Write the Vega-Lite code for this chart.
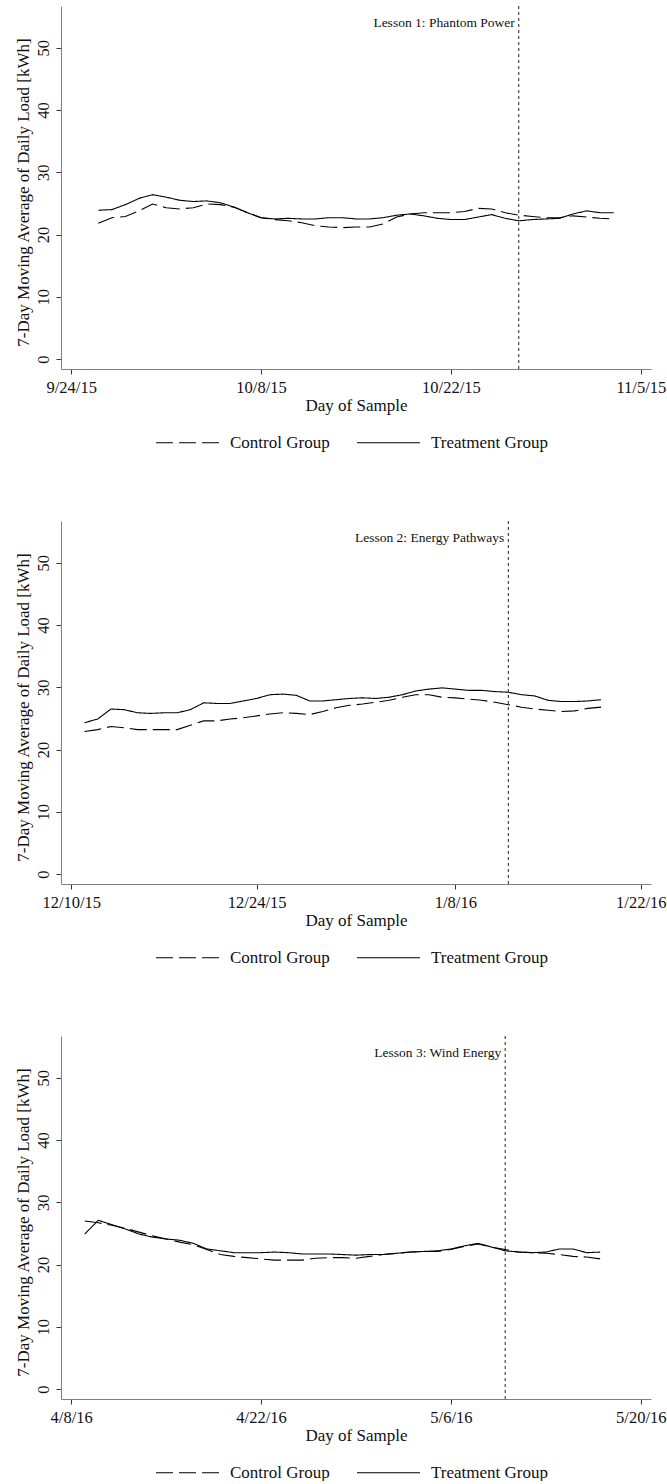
{
"$schema": "https://vega.github.io/schema/vega-lite/v6.json",
"padding": {"left": 14, "top": 5, "right": 0, "bottom": 0},
"spacing": 152,
"bounds": "flush",
"datasets": {
"p1": [
{"date":"2015-09-26","group":"Treatment Group","kwh":23.9},{"date":"2015-09-27","group":"Treatment Group","kwh":24.0},{"date":"2015-09-28","group":"Treatment Group","kwh":24.8},{"date":"2015-09-29","group":"Treatment Group","kwh":25.8},{"date":"2015-09-30","group":"Treatment Group","kwh":26.4},{"date":"2015-10-01","group":"Treatment Group","kwh":26.0},{"date":"2015-10-02","group":"Treatment Group","kwh":25.5},{"date":"2015-10-03","group":"Treatment Group","kwh":25.3},{"date":"2015-10-04","group":"Treatment Group","kwh":25.4},{"date":"2015-10-05","group":"Treatment Group","kwh":25.1},{"date":"2015-10-06","group":"Treatment Group","kwh":24.4},{"date":"2015-10-07","group":"Treatment Group","kwh":23.5},{"date":"2015-10-08","group":"Treatment Group","kwh":22.7},{"date":"2015-10-09","group":"Treatment Group","kwh":22.5},{"date":"2015-10-10","group":"Treatment Group","kwh":22.6},{"date":"2015-10-11","group":"Treatment Group","kwh":22.5},{"date":"2015-10-12","group":"Treatment Group","kwh":22.5},{"date":"2015-10-13","group":"Treatment Group","kwh":22.7},{"date":"2015-10-14","group":"Treatment Group","kwh":22.7},{"date":"2015-10-15","group":"Treatment Group","kwh":22.5},{"date":"2015-10-16","group":"Treatment Group","kwh":22.5},{"date":"2015-10-17","group":"Treatment Group","kwh":22.7},{"date":"2015-10-18","group":"Treatment Group","kwh":23.1},{"date":"2015-10-19","group":"Treatment Group","kwh":23.3},{"date":"2015-10-20","group":"Treatment Group","kwh":23.0},{"date":"2015-10-21","group":"Treatment Group","kwh":22.6},{"date":"2015-10-22","group":"Treatment Group","kwh":22.4},{"date":"2015-10-23","group":"Treatment Group","kwh":22.4},{"date":"2015-10-24","group":"Treatment Group","kwh":22.8},{"date":"2015-10-25","group":"Treatment Group","kwh":23.2},{"date":"2015-10-26","group":"Treatment Group","kwh":22.6},{"date":"2015-10-27","group":"Treatment Group","kwh":22.2},{"date":"2015-10-28","group":"Treatment Group","kwh":22.4},{"date":"2015-10-29","group":"Treatment Group","kwh":22.5},{"date":"2015-10-30","group":"Treatment Group","kwh":22.6},{"date":"2015-10-31","group":"Treatment Group","kwh":23.3},{"date":"2015-11-01","group":"Treatment Group","kwh":23.8},{"date":"2015-11-02","group":"Treatment Group","kwh":23.5},{"date":"2015-11-03","group":"Treatment Group","kwh":23.5},
{"date":"2015-09-26","group":"Control Group","kwh":21.8},{"date":"2015-09-27","group":"Control Group","kwh":22.7},{"date":"2015-09-28","group":"Control Group","kwh":22.9},{"date":"2015-09-29","group":"Control Group","kwh":23.8},{"date":"2015-09-30","group":"Control Group","kwh":24.9},{"date":"2015-10-01","group":"Control Group","kwh":24.3},{"date":"2015-10-02","group":"Control Group","kwh":24.1},{"date":"2015-10-03","group":"Control Group","kwh":24.3},{"date":"2015-10-04","group":"Control Group","kwh":24.9},{"date":"2015-10-05","group":"Control Group","kwh":24.8},{"date":"2015-10-06","group":"Control Group","kwh":24.4},{"date":"2015-10-07","group":"Control Group","kwh":23.5},{"date":"2015-10-08","group":"Control Group","kwh":22.7},{"date":"2015-10-09","group":"Control Group","kwh":22.4},{"date":"2015-10-10","group":"Control Group","kwh":22.2},{"date":"2015-10-11","group":"Control Group","kwh":21.9},{"date":"2015-10-12","group":"Control Group","kwh":21.4},{"date":"2015-10-13","group":"Control Group","kwh":21.2},{"date":"2015-10-14","group":"Control Group","kwh":21.1},{"date":"2015-10-15","group":"Control Group","kwh":21.2},{"date":"2015-10-16","group":"Control Group","kwh":21.2},{"date":"2015-10-17","group":"Control Group","kwh":21.7},{"date":"2015-10-18","group":"Control Group","kwh":22.8},{"date":"2015-10-19","group":"Control Group","kwh":23.3},{"date":"2015-10-20","group":"Control Group","kwh":23.5},{"date":"2015-10-21","group":"Control Group","kwh":23.5},{"date":"2015-10-22","group":"Control Group","kwh":23.5},{"date":"2015-10-23","group":"Control Group","kwh":23.7},{"date":"2015-10-24","group":"Control Group","kwh":24.2},{"date":"2015-10-25","group":"Control Group","kwh":24.1},{"date":"2015-10-26","group":"Control Group","kwh":23.5},{"date":"2015-10-27","group":"Control Group","kwh":23.1},{"date":"2015-10-28","group":"Control Group","kwh":22.9},{"date":"2015-10-29","group":"Control Group","kwh":22.7},{"date":"2015-10-30","group":"Control Group","kwh":22.7},{"date":"2015-10-31","group":"Control Group","kwh":23.0},{"date":"2015-11-01","group":"Control Group","kwh":22.8},{"date":"2015-11-02","group":"Control Group","kwh":22.6},{"date":"2015-11-03","group":"Control Group","kwh":22.5}
],
"p2": [
{"date":"2015-12-11","group":"Treatment Group","kwh":24.3},{"date":"2015-12-12","group":"Treatment Group","kwh":24.9},{"date":"2015-12-13","group":"Treatment Group","kwh":26.5},{"date":"2015-12-14","group":"Treatment Group","kwh":26.4},{"date":"2015-12-15","group":"Treatment Group","kwh":25.9},{"date":"2015-12-16","group":"Treatment Group","kwh":25.8},{"date":"2015-12-17","group":"Treatment Group","kwh":25.9},{"date":"2015-12-18","group":"Treatment Group","kwh":25.9},{"date":"2015-12-19","group":"Treatment Group","kwh":26.4},{"date":"2015-12-20","group":"Treatment Group","kwh":27.5},{"date":"2015-12-21","group":"Treatment Group","kwh":27.4},{"date":"2015-12-22","group":"Treatment Group","kwh":27.4},{"date":"2015-12-23","group":"Treatment Group","kwh":27.8},{"date":"2015-12-24","group":"Treatment Group","kwh":28.2},{"date":"2015-12-25","group":"Treatment Group","kwh":28.8},{"date":"2015-12-26","group":"Treatment Group","kwh":28.9},{"date":"2015-12-27","group":"Treatment Group","kwh":28.7},{"date":"2015-12-28","group":"Treatment Group","kwh":27.8},{"date":"2015-12-29","group":"Treatment Group","kwh":27.8},{"date":"2015-12-30","group":"Treatment Group","kwh":28.0},{"date":"2015-12-31","group":"Treatment Group","kwh":28.2},{"date":"2016-01-01","group":"Treatment Group","kwh":28.3},{"date":"2016-01-02","group":"Treatment Group","kwh":28.2},{"date":"2016-01-03","group":"Treatment Group","kwh":28.4},{"date":"2016-01-04","group":"Treatment Group","kwh":28.8},{"date":"2016-01-05","group":"Treatment Group","kwh":29.4},{"date":"2016-01-06","group":"Treatment Group","kwh":29.7},{"date":"2016-01-07","group":"Treatment Group","kwh":29.9},{"date":"2016-01-08","group":"Treatment Group","kwh":29.7},{"date":"2016-01-09","group":"Treatment Group","kwh":29.5},{"date":"2016-01-10","group":"Treatment Group","kwh":29.5},{"date":"2016-01-11","group":"Treatment Group","kwh":29.3},{"date":"2016-01-12","group":"Treatment Group","kwh":29.2},{"date":"2016-01-13","group":"Treatment Group","kwh":28.8},{"date":"2016-01-14","group":"Treatment Group","kwh":28.6},{"date":"2016-01-15","group":"Treatment Group","kwh":27.9},{"date":"2016-01-16","group":"Treatment Group","kwh":27.7},{"date":"2016-01-17","group":"Treatment Group","kwh":27.7},{"date":"2016-01-18","group":"Treatment Group","kwh":27.8},{"date":"2016-01-19","group":"Treatment Group","kwh":28.0},
{"date":"2015-12-11","group":"Control Group","kwh":22.9},{"date":"2015-12-12","group":"Control Group","kwh":23.2},{"date":"2015-12-13","group":"Control Group","kwh":23.7},{"date":"2015-12-14","group":"Control Group","kwh":23.5},{"date":"2015-12-15","group":"Control Group","kwh":23.2},{"date":"2015-12-16","group":"Control Group","kwh":23.2},{"date":"2015-12-17","group":"Control Group","kwh":23.2},{"date":"2015-12-18","group":"Control Group","kwh":23.2},{"date":"2015-12-19","group":"Control Group","kwh":23.9},{"date":"2015-12-20","group":"Control Group","kwh":24.6},{"date":"2015-12-21","group":"Control Group","kwh":24.6},{"date":"2015-12-22","group":"Control Group","kwh":24.9},{"date":"2015-12-23","group":"Control Group","kwh":25.1},{"date":"2015-12-24","group":"Control Group","kwh":25.4},{"date":"2015-12-25","group":"Control Group","kwh":25.7},{"date":"2015-12-26","group":"Control Group","kwh":25.9},{"date":"2015-12-27","group":"Control Group","kwh":25.8},{"date":"2015-12-28","group":"Control Group","kwh":25.6},{"date":"2015-12-29","group":"Control Group","kwh":26.1},{"date":"2015-12-30","group":"Control Group","kwh":26.7},{"date":"2015-12-31","group":"Control Group","kwh":27.1},{"date":"2016-01-01","group":"Control Group","kwh":27.3},{"date":"2016-01-02","group":"Control Group","kwh":27.6},{"date":"2016-01-03","group":"Control Group","kwh":27.9},{"date":"2016-01-04","group":"Control Group","kwh":28.4},{"date":"2016-01-05","group":"Control Group","kwh":28.8},{"date":"2016-01-06","group":"Control Group","kwh":28.8},{"date":"2016-01-07","group":"Control Group","kwh":28.4},{"date":"2016-01-08","group":"Control Group","kwh":28.3},{"date":"2016-01-09","group":"Control Group","kwh":28.1},{"date":"2016-01-10","group":"Control Group","kwh":27.9},{"date":"2016-01-11","group":"Control Group","kwh":27.6},{"date":"2016-01-12","group":"Control Group","kwh":27.2},{"date":"2016-01-13","group":"Control Group","kwh":26.8},{"date":"2016-01-14","group":"Control Group","kwh":26.5},{"date":"2016-01-15","group":"Control Group","kwh":26.3},{"date":"2016-01-16","group":"Control Group","kwh":26.1},{"date":"2016-01-17","group":"Control Group","kwh":26.2},{"date":"2016-01-18","group":"Control Group","kwh":26.6},{"date":"2016-01-19","group":"Control Group","kwh":26.8}
],
"p3": [
{"date":"2016-04-09","group":"Treatment Group","kwh":24.9},{"date":"2016-04-10","group":"Treatment Group","kwh":27.1},{"date":"2016-04-11","group":"Treatment Group","kwh":26.4},{"date":"2016-04-12","group":"Treatment Group","kwh":25.7},{"date":"2016-04-13","group":"Treatment Group","kwh":24.9},{"date":"2016-04-14","group":"Treatment Group","kwh":24.4},{"date":"2016-04-15","group":"Treatment Group","kwh":24.1},{"date":"2016-04-16","group":"Treatment Group","kwh":23.9},{"date":"2016-04-17","group":"Treatment Group","kwh":23.4},{"date":"2016-04-18","group":"Treatment Group","kwh":22.5},{"date":"2016-04-19","group":"Treatment Group","kwh":22.2},{"date":"2016-04-20","group":"Treatment Group","kwh":21.9},{"date":"2016-04-21","group":"Treatment Group","kwh":21.9},{"date":"2016-04-22","group":"Treatment Group","kwh":21.9},{"date":"2016-04-23","group":"Treatment Group","kwh":22.0},{"date":"2016-04-24","group":"Treatment Group","kwh":21.9},{"date":"2016-04-25","group":"Treatment Group","kwh":21.7},{"date":"2016-04-26","group":"Treatment Group","kwh":21.7},{"date":"2016-04-27","group":"Treatment Group","kwh":21.7},{"date":"2016-04-28","group":"Treatment Group","kwh":21.6},{"date":"2016-04-29","group":"Treatment Group","kwh":21.5},{"date":"2016-04-30","group":"Treatment Group","kwh":21.6},{"date":"2016-05-01","group":"Treatment Group","kwh":21.6},{"date":"2016-05-02","group":"Treatment Group","kwh":21.8},{"date":"2016-05-03","group":"Treatment Group","kwh":22.0},{"date":"2016-05-04","group":"Treatment Group","kwh":22.1},{"date":"2016-05-05","group":"Treatment Group","kwh":22.2},{"date":"2016-05-06","group":"Treatment Group","kwh":22.5},{"date":"2016-05-07","group":"Treatment Group","kwh":23.0},{"date":"2016-05-08","group":"Treatment Group","kwh":23.4},{"date":"2016-05-09","group":"Treatment Group","kwh":22.8},{"date":"2016-05-10","group":"Treatment Group","kwh":22.2},{"date":"2016-05-11","group":"Treatment Group","kwh":22.0},{"date":"2016-05-12","group":"Treatment Group","kwh":21.9},{"date":"2016-05-13","group":"Treatment Group","kwh":22.0},{"date":"2016-05-14","group":"Treatment Group","kwh":22.5},{"date":"2016-05-15","group":"Treatment Group","kwh":22.5},{"date":"2016-05-16","group":"Treatment Group","kwh":21.9},{"date":"2016-05-17","group":"Treatment Group","kwh":22.0},
{"date":"2016-04-09","group":"Control Group","kwh":27.0},{"date":"2016-04-10","group":"Control Group","kwh":26.7},{"date":"2016-04-11","group":"Control Group","kwh":26.3},{"date":"2016-04-12","group":"Control Group","kwh":25.8},{"date":"2016-04-13","group":"Control Group","kwh":25.2},{"date":"2016-04-14","group":"Control Group","kwh":24.6},{"date":"2016-04-15","group":"Control Group","kwh":24.1},{"date":"2016-04-16","group":"Control Group","kwh":23.6},{"date":"2016-04-17","group":"Control Group","kwh":23.2},{"date":"2016-04-18","group":"Control Group","kwh":22.4},{"date":"2016-04-19","group":"Control Group","kwh":21.6},{"date":"2016-04-20","group":"Control Group","kwh":21.3},{"date":"2016-04-21","group":"Control Group","kwh":21.1},{"date":"2016-04-22","group":"Control Group","kwh":20.9},{"date":"2016-04-23","group":"Control Group","kwh":20.7},{"date":"2016-04-24","group":"Control Group","kwh":20.7},{"date":"2016-04-25","group":"Control Group","kwh":20.7},{"date":"2016-04-26","group":"Control Group","kwh":21.0},{"date":"2016-04-27","group":"Control Group","kwh":21.1},{"date":"2016-04-28","group":"Control Group","kwh":21.1},{"date":"2016-04-29","group":"Control Group","kwh":21.0},{"date":"2016-04-30","group":"Control Group","kwh":21.3},{"date":"2016-05-01","group":"Control Group","kwh":21.6},{"date":"2016-05-02","group":"Control Group","kwh":21.8},{"date":"2016-05-03","group":"Control Group","kwh":22.0},{"date":"2016-05-04","group":"Control Group","kwh":22.1},{"date":"2016-05-05","group":"Control Group","kwh":22.1},{"date":"2016-05-06","group":"Control Group","kwh":22.4},{"date":"2016-05-07","group":"Control Group","kwh":22.9},{"date":"2016-05-08","group":"Control Group","kwh":23.3},{"date":"2016-05-09","group":"Control Group","kwh":22.8},{"date":"2016-05-10","group":"Control Group","kwh":22.4},{"date":"2016-05-11","group":"Control Group","kwh":22.0},{"date":"2016-05-12","group":"Control Group","kwh":21.9},{"date":"2016-05-13","group":"Control Group","kwh":21.8},{"date":"2016-05-14","group":"Control Group","kwh":21.6},{"date":"2016-05-15","group":"Control Group","kwh":21.3},{"date":"2016-05-16","group":"Control Group","kwh":21.2},{"date":"2016-05-17","group":"Control Group","kwh":20.9}
],
"lessons": [
{"panel":1,"date":"2015-10-27","lesson":"Lesson 1: Phantom Power"},
{"panel":2,"date":"2016-01-12","lesson":"Lesson 2: Energy Pathways"},
{"panel":3,"date":"2016-05-10","lesson":"Lesson 3: Wind Energy"}
]
},
"resolve": {"scale": {"x": "independent", "strokeDash": "independent"}, "axis": {"x": "independent"}, "legend": {"strokeDash": "independent"}},
"vconcat": [
{
"width": 590, "height": 363,
"layer": [
{"data": {"name": "p1"}, "mark": {"type": "line", "color": "#000", "strokeWidth": 1.1},
 "encoding": {
  "x": {"field": "date", "type": "temporal", "scale": {"type": "utc", "domain": [{"year":2015,"month":9,"date":23,"hours":6,"utc":true},{"year":2015,"month":11,"date":5,"hours":18,"utc":true}]},
   "axis": {"values": [{"year":2015,"month":9,"date":24,"utc":true},{"year":2015,"month":10,"date":8,"utc":true},{"year":2015,"month":10,"date":22,"utc":true},{"year":2015,"month":11,"date":5,"utc":true}], "labelExpr": "utcFormat(datum.value, '%-m/%-d/%y')", "title": "Day of Sample", "labelPadding": 5, "titleBaseline": "alphabetic", "titleY": 41, "labelFlush": false, "labelOverlap": false}},
  "y": {"field": "kwh", "type": "quantitative", "scale": {"domain": [-1.6, 56.7], "nice": false, "zero": false},
   "axis": {"values": [0,10,20,30,40,50], "labelAngle": -90, "labelAlign": "center", "labelBaseline": "bottom", "labelPadding": 4.5, "title": "7-Day Moving Average of Daily Load [kWh]", "titleX": -32.5, "titleY": 186, "titleBaseline": "alphabetic", "titleAngle": -90, "titleAlign": "center"}},
  "strokeDash": {"field": "group", "type": "nominal", "scale": {"domain": ["Control Group", "Treatment Group"], "range": [[17, 6], [1, 0]]},
   "legend": {"orient": "none", "legendX": 94, "legendY": 404, "direction": "horizontal", "title": null}}
 }},
{"data": {"name": "lessons"}, "transform": [{"filter": "datum.panel == 1"}], "mark": {"type": "rule", "color": "#222", "strokeDash": [3, 3], "strokeWidth": 1},
 "encoding": {"x": {"field": "date", "type": "temporal"}}},
{"data": {"name": "lessons"}, "transform": [{"filter": "datum.panel == 1"}], "mark": {"type": "text", "align": "right", "baseline": "middle", "dx": -4, "fontSize": 13.5, "color": "#111", "font": "Liberation Serif"},
 "encoding": {"x": {"field": "date", "type": "temporal"}, "y": {"datum": 54, "type": "quantitative"}, "text": {"field": "lesson"}}}
]
},
{
"width": 590, "height": 363,
"layer": [
{"data": {"name": "p2"}, "mark": {"type": "line", "color": "#000", "strokeWidth": 1.1},
 "encoding": {
  "x": {"field": "date", "type": "temporal", "scale": {"type": "utc", "domain": [{"year":2015,"month":12,"date":9,"hours":5,"minutes":30,"utc":true},{"year":2016,"month":1,"date":22,"hours":18,"minutes":30,"utc":true}]},
   "axis": {"values": [{"year":2015,"month":12,"date":10,"utc":true},{"year":2015,"month":12,"date":24,"utc":true},{"year":2016,"month":1,"date":8,"utc":true},{"year":2016,"month":1,"date":22,"utc":true}], "labelExpr": "utcFormat(datum.value, '%-m/%-d/%y')", "title": "Day of Sample", "labelPadding": 5, "titleBaseline": "alphabetic", "titleY": 41, "labelFlush": false, "labelOverlap": false}},
  "y": {"field": "kwh", "type": "quantitative", "scale": {"domain": [-1.6, 56.7], "nice": false, "zero": false},
   "axis": {"values": [0,10,20,30,40,50], "labelAngle": -90, "labelAlign": "center", "labelBaseline": "bottom", "labelPadding": 4.5, "title": "7-Day Moving Average of Daily Load [kWh]", "titleX": -32.5, "titleY": 186, "titleBaseline": "alphabetic", "titleAngle": -90, "titleAlign": "center"}},
  "strokeDash": {"field": "group", "type": "nominal", "scale": {"domain": ["Control Group", "Treatment Group"], "range": [[17, 6], [1, 0]]},
   "legend": {"orient": "none", "legendX": 94, "legendY": 404, "direction": "horizontal", "title": null}}
 }},
{"data": {"name": "lessons"}, "transform": [{"filter": "datum.panel == 2"}], "mark": {"type": "rule", "color": "#222", "strokeDash": [3, 3], "strokeWidth": 1},
 "encoding": {"x": {"field": "date", "type": "temporal"}}},
{"data": {"name": "lessons"}, "transform": [{"filter": "datum.panel == 2"}], "mark": {"type": "text", "align": "right", "baseline": "middle", "dx": -4, "fontSize": 13.5, "color": "#111", "font": "Liberation Serif"},
 "encoding": {"x": {"field": "date", "type": "temporal"}, "y": {"datum": 54, "type": "quantitative"}, "text": {"field": "lesson"}}}
]
},
{
"width": 590, "height": 363,
"layer": [
{"data": {"name": "p3"}, "mark": {"type": "line", "color": "#000", "strokeWidth": 1.1},
 "encoding": {
  "x": {"field": "date", "type": "temporal", "scale": {"type": "utc", "domain": [{"year":2016,"month":4,"date":7,"hours":6,"utc":true},{"year":2016,"month":5,"date":20,"hours":18,"utc":true}]},
   "axis": {"values": [{"year":2016,"month":4,"date":8,"utc":true},{"year":2016,"month":4,"date":22,"utc":true},{"year":2016,"month":5,"date":6,"utc":true},{"year":2016,"month":5,"date":20,"utc":true}], "labelExpr": "utcFormat(datum.value, '%-m/%-d/%y')", "title": "Day of Sample", "labelPadding": 5, "titleBaseline": "alphabetic", "titleY": 41, "labelFlush": false, "labelOverlap": false}},
  "y": {"field": "kwh", "type": "quantitative", "scale": {"domain": [-1.6, 56.7], "nice": false, "zero": false},
   "axis": {"values": [0,10,20,30,40,50], "labelAngle": -90, "labelAlign": "center", "labelBaseline": "bottom", "labelPadding": 4.5, "title": "7-Day Moving Average of Daily Load [kWh]", "titleX": -32.5, "titleY": 186, "titleBaseline": "alphabetic", "titleAngle": -90, "titleAlign": "center"}},
  "strokeDash": {"field": "group", "type": "nominal", "scale": {"domain": ["Control Group", "Treatment Group"], "range": [[17, 6], [1, 0]]},
   "legend": {"orient": "none", "legendX": 94, "legendY": 404, "direction": "horizontal", "title": null}}
 }},
{"data": {"name": "lessons"}, "transform": [{"filter": "datum.panel == 3"}], "mark": {"type": "rule", "color": "#222", "strokeDash": [3, 3], "strokeWidth": 1},
 "encoding": {"x": {"field": "date", "type": "temporal"}}},
{"data": {"name": "lessons"}, "transform": [{"filter": "datum.panel == 3"}], "mark": {"type": "text", "align": "right", "baseline": "middle", "dx": -4, "fontSize": 13.5, "color": "#111", "font": "Liberation Serif"},
 "encoding": {"x": {"field": "date", "type": "temporal"}, "y": {"datum": 54, "type": "quantitative"}, "text": {"field": "lesson"}}}
]
}
],
"config": {
 "font": "Liberation Serif",
 "view": {"stroke": null},
 "axis": {"grid": false, "domainColor": "#808080", "domainWidth": 1, "tickColor": "#333", "tickSize": 5, "labelColor": "#111", "titleColor": "#111", "labelFont": "Liberation Serif", "titleFont": "Liberation Serif", "titleFontWeight": "normal", "labelFontSize": 16.5, "titleFontSize": 17},
 "legend": {"symbolType": "stroke", "symbolSize": 3969, "symbolStrokeColor": "#000", "symbolStrokeWidth": 1.1, "labelFontSize": 17, "labelFont": "Liberation Serif", "labelColor": "#111", "labelOffset": 10, "columnPadding": 24, "labelLimit": 300}
}
}
